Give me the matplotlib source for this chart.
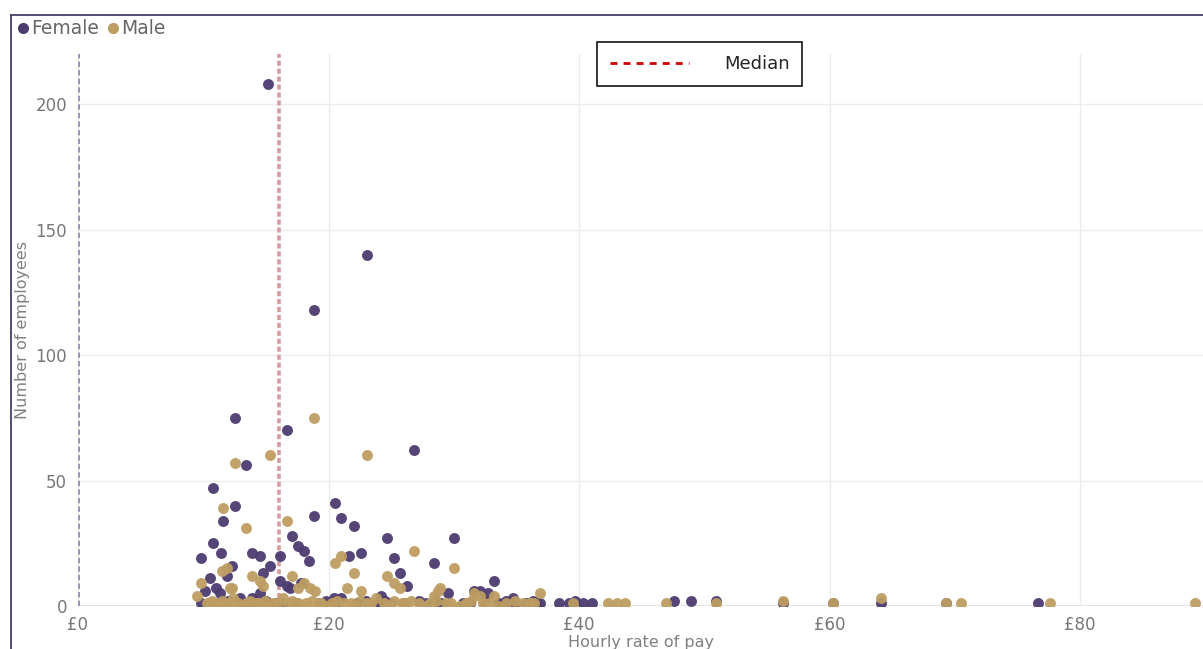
import matplotlib.pyplot as plt
from matplotlib.lines import Line2D

# data (hourly pay in £, number of employees)
female_pay = [15.2, 23.1, 18.8, 12.5, 16.65, 26.8, 13.4, 10.8, 20.5, 12.5, 21.0, 18.8,
              22.05, 24.7, 30.0, 17.1, 11.6, 28.4, 17.6, 10.8, 18.0, 11.4, 13.9, 14.5,
              16.1, 9.8, 18.4, 21.6, 22.6, 25.2, 12.3, 15.3, 14.8, 11.9, 25.7, 10.5,
              16.1, 33.2, 16.65, 26.3, 16.9, 11.0, 10.1, 11.3, 29.5, 31.6, 32.1, 32.7,
              24.2, 12.9, 13.9, 14.5, 20.4, 21.0, 34.7, 34.2, 36.3, 39.7, 47.6, 48.9,
              50.9, 17.8,
              9.8, 13.2, 14.0, 15.8, 16.4, 17.4, 19.2, 20.6, 22.3, 23.8, 25.0, 26.0,
              27.8, 29.0, 30.7, 31.3, 33.6, 34.9, 35.8, 36.6, 36.9, 38.4, 39.2, 40.3,
              41.0, 56.3, 60.3, 64.1, 69.3, 76.6,
              11.5, 12.0, 15.0, 19.8, 23.0, 24.5, 27.2, 28.6, 32.4]
female_n = [208, 140, 118, 75, 70, 62, 56, 47, 41, 40, 35, 36,
            32, 27, 27, 28, 34, 17, 24, 25, 22, 21, 21, 20,
            20, 19, 18, 20, 21, 19, 16, 16, 13, 12, 13, 11,
            10, 10, 8, 8, 7, 7, 6, 5, 5, 6, 6, 5,
            4, 3, 3, 5, 3, 3, 3, 2, 2, 2, 2, 2,
            2, 9,
            1, 1, 1, 1, 1, 1, 1, 1, 1, 1, 1, 1,
            1, 1, 1, 1, 1, 1, 1, 1, 1, 1, 1, 1,
            1, 1, 1, 1, 1, 1,
            2, 2, 2, 2, 2, 2, 2, 2, 2]

male_pay = [18.8, 23.1, 15.3, 12.5, 11.6, 16.65, 13.4, 26.8, 21.0, 20.5, 30.0, 11.9,
            11.5, 13.9, 17.1, 22.05, 24.7, 14.5, 9.8, 18.0, 25.2, 14.8, 28.9, 28.7,
            12.1, 12.3, 17.6, 18.5, 18.9, 21.5, 22.6, 25.7, 9.5, 28.4, 31.6, 32.1,
            33.2, 36.9,
            10.3, 10.7, 10.9, 11.3, 11.5, 11.9, 12.1, 12.4, 12.8, 13.0, 13.4, 13.7,
            14.2, 14.4, 14.9, 15.1, 15.6, 16.0, 16.4, 16.8, 17.1, 17.6, 17.9, 18.2,
            18.7, 19.2, 19.4, 19.9, 20.3, 20.7, 21.2, 21.8, 22.0, 22.5, 23.1, 23.4,
            23.8, 24.4, 24.9, 25.2, 25.9, 26.1, 26.6, 27.2, 27.5, 28.1, 28.6, 29.4,
            29.8, 30.5, 31.0, 31.4, 32.3, 32.8, 33.5, 34.2, 34.9, 35.5, 36.1, 36.4,
            39.5, 42.3, 43.0, 43.7, 46.9, 50.9, 56.3, 60.3, 64.1, 69.3, 70.5, 77.6,
            89.2]
male_n = [75, 60, 60, 57, 39, 34, 31, 22, 20, 17, 15, 15,
          14, 12, 12, 13, 12, 10, 9, 9, 9, 8, 7, 6,
          7, 7, 7, 7, 6, 7, 6, 7, 4, 4, 5, 4,
          4, 5,
          1, 2, 1, 0, 2, 1, 1, 3, 1, 0, 1, 2,
          1, 1, 2, 0, 1, 1, 3, 1, 2, 1, 0, 1,
          2, 1, 1, 0, 1, 2, 1, 1, 0, 2, 1, 1,
          3, 1, 0, 2, 1, 1, 2, 1, 0, 1, 2, 1,
          1, 0, 1, 2, 1, 1, 0, 1, 2, 1, 1, 1,
          1, 1, 1, 1, 1, 1, 2, 1, 3, 1, 1, 1,
          1]

median_pay = 16.05
x_ticks = [0, 20, 40, 60, 80]
x_labels = ['£0', '£20', '£40', '£60', '£80']
y_ticks = [0, 50, 100, 150, 200]

purple = '#4d3c70'
tan = '#bd9d62'

W, H = 1203, 649
fig = plt.figure(figsize=(W / 100, H / 100), dpi=100)
ax = fig.add_axes([78 / W, (H - 606) / H, (W - 78) / W, (606 - 54) / H])

ax.scatter(female_pay, female_n, s=62, color=purple, alpha=0.95, lw=0, zorder=3)
ax.scatter(male_pay, male_n, s=62, color=tan, alpha=0.95, lw=0, zorder=4)

ax.axvline(0, color='#9a92b2', ls=(0, (1.4, 0.8)), lw=2.8, zorder=2)
ax.axvline(median_pay, color='#dc9aa0', ls=(0, (1.4, 0.8)), lw=2.6, zorder=2)

ax.set_xlim(0, 89.8)
ax.set_ylim(0, 220)
ax.set_xticks(x_ticks)
ax.set_xticklabels(x_labels)
ax.set_yticks(y_ticks)
ax.grid(True, color='#ececec', lw=1)
ax.axhline(0, color='#dcdcdc', lw=1.2, zorder=1)
for s in ax.spines.values():
    s.set_visible(False)
ax.tick_params(length=0, labelsize=12, labelcolor='#777777')
ax.tick_params(axis='x', pad=7)
ax.tick_params(axis='y', pad=8)
ax.set_xlabel('Hourly rate of pay', fontsize=11.5, color='#808080', labelpad=1)
ax.set_ylabel('Number of employees', fontsize=11.5, color='#808080')
ax.yaxis.set_label_coords(-0.043, 0.5)

# median legend box
med = Line2D([], [], color='#cc0000', ls=(0, (2.5, 2.2)), lw=2)
lg = ax.legend([med], ['Median'], loc='upper left',
               bbox_to_anchor=(597 / W, 1 - 42 / H), bbox_transform=fig.transFigure,
               borderaxespad=0, fancybox=False, edgecolor='black', framealpha=1,
               fontsize=13, handlelength=4.4, handletextpad=1.9, borderpad=0.72)
lg.get_frame().set_linewidth(1.1)
for t in lg.get_texts():
    t.set_color('#252525')

# series legend at the top
h1 = Line2D([], [], marker='o', ls='', color=purple, markersize=7)
h2 = Line2D([], [], marker='o', ls='', color=tan, markersize=7)
fig.legend([h1, h2], ['Female', 'Male'], loc='upper left', ncol=2,
           bbox_to_anchor=(10 / W, 1 - 12 / H), frameon=False, fontsize=13.5,
           handlelength=0.6, handletextpad=0.15, columnspacing=0.4,
           borderaxespad=0, labelcolor='#666666')

# frame of the visual
fig.add_artist(Line2D([11 / W, 11 / W], [0, 1 - 15 / H], color='#4a3b6b', lw=1.3))
fig.add_artist(Line2D([11 / W, 1], [1 - 15 / H, 1 - 15 / H], color='#4a3b6b', lw=1.3))

fig.savefig('out.png', dpi=100)
